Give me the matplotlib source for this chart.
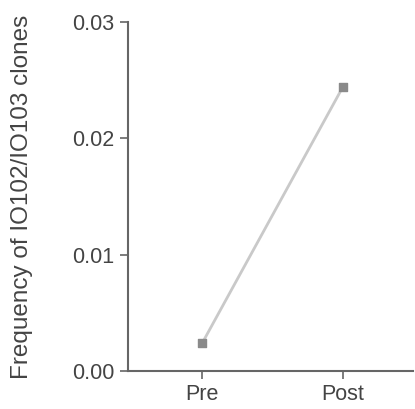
import matplotlib.pyplot as plt

plt.rcParams['font.family'] = ['Liberation Sans', 'DejaVu Sans']

groups = ["Pre", "Post"]
freq = [0.0024, 0.0244]
yticks = [0.00, 0.01, 0.02, 0.03]

fig = plt.figure(figsize=(4.15, 4.09), dpi=100)
ax = fig.add_axes([0.308, 0.093, 0.687, 0.853])

x = list(range(len(groups)))
ax.plot(x, freq, c='#c9c9c9', lw=2, zorder=1)
ax.scatter(x, freq, marker='s', s=40, c='#8a8a8a', zorder=2)

ax.set_xlim(-0.53, 1.5)
ax.set_ylim(0, 0.03)
ax.set_xticks(x)
ax.set_xticklabels(groups)
ax.set_yticks(yticks)
ax.set_yticklabels(["%.2f" % v for v in yticks])
ax.set_ylabel("Frequency of IO102/IO103 clones", fontsize=17.5, color='#444444', labelpad=28)

for s in ['top', 'right']:
    ax.spines[s].set_visible(False)
for s in ['left', 'bottom']:
    ax.spines[s].set_color('#666666')
    ax.spines[s].set_linewidth(1.5)
ax.tick_params(colors='#666666', labelcolor='#444444', labelsize=15.5, length=6, width=1.2)

plt.savefig("out.png", dpi=100)
